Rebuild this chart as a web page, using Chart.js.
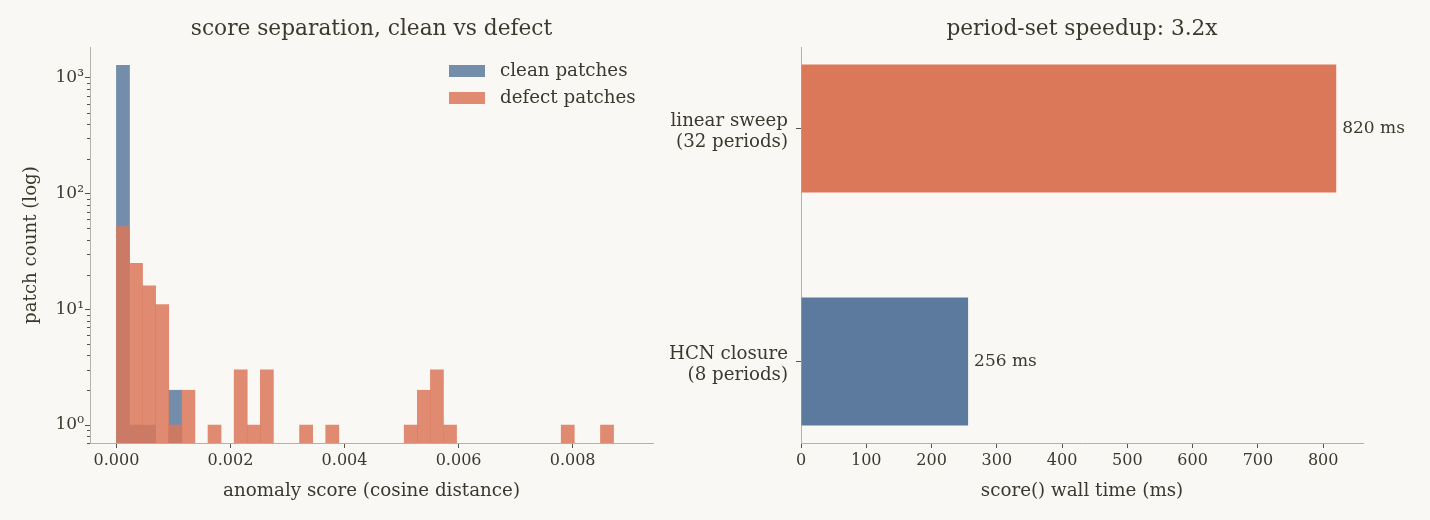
<!DOCTYPE html>
<html>
<head>
<meta charset="utf-8">
<script src="https://cdn.jsdelivr.net/npm/chart.js@4.4.0/dist/chart.umd.min.js"></script>
<style>
  body { margin: 0; background: #faf8f4; }
  #left { position: absolute; left: 0; top: 0; }
  #right { position: absolute; left: 640px; top: 0; }
</style>
</head>
<body>
<canvas id="left" width="700" height="520"></canvas>
<canvas id="right" width="790" height="520"></canvas>
<script>
// histogram bins (38 equal bins starting at 0)
var binWidth = 0.0002294;
var cleanCounts  = [1286, 1, 1, 0, 2, 0, 0, 0, 0, 0, 0, 0, 0, 0, 0, 0, 0, 0, 0,
                    0, 0, 0, 0, 0, 0, 0, 0, 0, 0, 0, 0, 0, 0, 0, 0, 0, 0, 0];
var defectCounts = [52, 25, 16, 11, 1, 2, 0, 1, 0, 3, 1, 3, 0, 0, 1, 0, 1, 0, 0,
                    0, 0, 0, 1, 2, 3, 1, 0, 0, 0, 0, 0, 0, 0, 0, 1, 0, 0, 1];
var logTicks = [1, 10, 100, 1000];

// timing bars
var methodLabels = [["HCN closure", "(8 periods)"], ["linear sweep", "(32 periods)"]];
var wallTimes = [256, 820];

var FONT = "DejaVu Serif";
var textColor = "#3b392f";
var spineColor = "#b3b1a8";
var tickColor = "#55534a";
var blue = "#5b7a9e";
var orange = "#db7859";

function toPoints(counts) {
	var pts = [];
	for (var i in counts) {
		pts.push({ x: (Number(i) + 0.5) * binWidth, y: counts[i] > 0 ? counts[i] : null });
	}
	return pts;
}

var sup = { 0: "\u2070", 1: "\u00b9", 2: "\u00b2", 3: "\u00b3" };

var minorTicks = {
	id: "minorTicks",
	afterDraw: function(chart) {
		var y = chart.scales.y, ctx = chart.ctx, left = chart.chartArea.left;
		ctx.save();
		ctx.strokeStyle = tickColor;
		ctx.lineWidth = 1;
		for (var d = 0.1; d < 2000; d *= 10) {
			for (var m = 2; m < 10; m++) {
				var v = d * m;
				if (v < y.min || v > y.max) continue;
				var py = Math.round(y.getPixelForValue(v)) + 0.5;
				ctx.beginPath();
				ctx.moveTo(left - 3, py);
				ctx.lineTo(left, py);
				ctx.stroke();
			}
		}
		ctx.restore();
	}
};

var histLegend = {
	id: "histLegend",
	afterDraw: function(chart) {
		var ctx = chart.ctx, right = chart.chartArea.right;
		var items = [["clean patches", "rgba(91,122,158,0.85)"], ["defect patches", "rgba(219,120,89,0.85)"]];
		ctx.save();
		ctx.font = "18.3px '" + FONT + "'";
		ctx.textBaseline = "middle";
		for (var i = 0; i < items.length; i++) {
			var yc = 71 + i * 27;
			ctx.fillStyle = items[i][1];
			ctx.fillRect(right - 204, yc - 6, 36, 12);
			ctx.fillStyle = textColor;
			ctx.fillText(items[i][0], right - 153, yc);
		}
		ctx.restore();
	}
};

var barValues = {
	id: "barValues",
	afterDatasetsDraw: function(chart) {
		var ctx = chart.ctx, meta = chart.getDatasetMeta(0);
		ctx.save();
		ctx.font = "17px '" + FONT + "'";
		ctx.fillStyle = textColor;
		ctx.textBaseline = "middle";
		meta.data.forEach(function(bar, i) {
			ctx.fillText(wallTimes[i] + " ms", bar.x + 6, bar.y);
		});
		ctx.restore();
	}
};

new Chart(document.getElementById("left"), {
	type: "bar",
	data: {
		datasets: [
			{
				label: "clean patches",
				data: toPoints(cleanCounts),
				backgroundColor: "rgba(91,122,158,0.85)",
				order: 1
			},
			{
				label: "defect patches",
				data: toPoints(defectCounts),
				backgroundColor: "rgba(219,120,89,0.85)",
				order: 0
			}
		]
	},
	options: {
		responsive: false,
		animation: false,
		grouped: false,
		barPercentage: 1,
		categoryPercentage: 1,
		layout: { padding: { left: 0, right: 47, top: 0, bottom: 0 } },
		plugins: {
			legend: { display: false },
			tooltip: { enabled: false },
			title: {
				display: true,
				text: "score separation, clean vs defect",
				fullSize: false,
				color: textColor,
				font: { family: FONT, size: 21.7, weight: "normal" },
				padding: { top: 16, bottom: 5 }
			}
		},
		scales: {
			x: {
				type: "linear",
				offset: false,
				min: -0.000463,
				max: 0.009409,
				border: { color: spineColor },
				grid: { offset: false, drawOnChartArea: false, tickLength: 5, tickColor: tickColor },
				ticks: {
					stepSize: 0.002,
					includeBounds: false,
					autoSkip: false,
					maxRotation: 0,
					padding: 3,
					color: textColor,
					font: { family: FONT, size: 16 },
					callback: function(v) { return v.toFixed(3); }
				},
				title: {
					display: true,
					text: "anomaly score (cosine distance)",
					color: textColor,
					font: { family: FONT, size: 18.3 },
					padding: { top: 0, bottom: 18 }
				},
				afterFit: function(s) { s.height = 77; }
			},
			y: {
				type: "logarithmic",
				min: 0.724,
				max: 1849,
				border: { color: spineColor },
				grid: { drawOnChartArea: false, tickLength: 5, tickColor: tickColor },
				afterBuildTicks: function(s) {
					s.ticks = logTicks.map(function(v) { return { value: v }; });
				},
				ticks: {
					padding: 1,
					color: textColor,
					font: { family: FONT, size: 17 },
					callback: function(v) { return "10" + sup[Math.round(Math.log10(v))]; }
				},
				title: {
					display: true,
					text: "patch count (log)",
					color: textColor,
					font: { family: FONT, size: 18.2 },
					padding: { top: 20, bottom: 0 }
				},
				afterFit: function(s) { s.width = 90; }
			}
		}
	},
	plugins: [minorTicks, histLegend]
});

new Chart(document.getElementById("right"), {
	type: "bar",
	data: {
		datasets: [{
			label: "score() wall time",
			data: wallTimes.map(function(t, i) { return { x: t, y: i }; }),
			backgroundColor: [blue, orange]
		}]
	},
	options: {
		indexAxis: "y",
		responsive: false,
		animation: false,
		barPercentage: 0.55,
		categoryPercentage: 1,
		layout: { padding: { left: 0, right: 67, top: 0, bottom: 0 } },
		plugins: {
			legend: { display: false },
			tooltip: { enabled: false },
			title: {
				display: true,
				text: "period-set speedup: 3.2x",
				fullSize: false,
				color: textColor,
				font: { family: FONT, size: 21.7, weight: "normal" },
				padding: { top: 16, bottom: 5 }
			}
		},
		scales: {
			x: {
				type: "linear",
				min: 0,
				max: 861,
				border: { color: spineColor },
				grid: { drawOnChartArea: false, tickLength: 5, tickColor: tickColor },
				ticks: {
					stepSize: 100,
					includeBounds: false,
					maxRotation: 0,
					padding: 3,
					color: textColor,
					font: { family: FONT, size: 16 }
				},
				title: {
					display: true,
					text: "score() wall time (ms)",
					color: textColor,
					font: { family: FONT, size: 18.3 },
					padding: { top: 0, bottom: 18 }
				},
				afterFit: function(s) { s.height = 77; }
			},
			y: {
				type: "linear",
				offset: false,
				min: -0.35,
				max: 1.35,
				border: { color: spineColor },
				grid: { offset: false, drawOnChartArea: false, tickLength: 5, tickColor: tickColor },
				afterBuildTicks: function(s) {
					s.ticks = [{ value: 0 }, { value: 1 }];
				},
				ticks: {
					padding: 8,
					labelOffset: 3.5,
					color: textColor,
					font: { family: FONT, size: 18.2, lineHeight: 1.15 },
					callback: function(v) { return methodLabels[v]; }
				},
				afterFit: function(s) { s.width = 161; }
			}
		}
	},
	plugins: [barValues]
});
</script>
</body>
</html>
